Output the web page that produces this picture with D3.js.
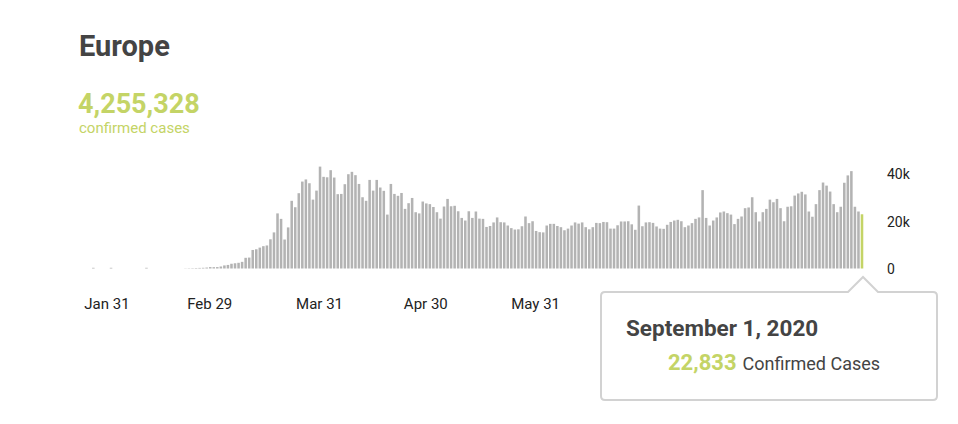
<!DOCTYPE html>
<html>
<head>
<meta charset="utf-8">
<script src="https://cdn.jsdelivr.net/npm/d3@7"></script>
<style>
  body { margin: 0; background: #fff; }
  svg { display: block; font-family: Roboto, "Noto Sans", sans-serif; }
</style>
</head>
<body>
<svg id="chart" width="958" height="424"></svg>
<script>
// ---------- DATA ----------
const regionName = "Europe";
const totalConfirmed = 4255328;
const totalLabel = "confirmed cases";
const startDate = "2020-01-22";
// daily new confirmed cases, Jan 22 .. Sep 1 2020
const janValues = [0,0,0,0,0,0,300,0,0,0];
const febValues = [0,300,0,0,0,0,0,0,0,0,0,300,0,0,0,0,0,0,0,0,0,0,80,120,150,200,250,300,400];
const marValues = [600,560,600,840,1300,1500,2000,2200,2400,2800,4500,4600,7800,8100,8800,9400,9700,12300,15200,23200,20900,12200,17300,28500,25800,31700,36600,37500,35900,29000,32800];
const aprValues = [42900,38600,38400,41400,38300,31300,31400,35500,39700,40700,39300,35600,30000,28500,37300,32800,37300,34100,32700,22700,35600,31400,30600,31800,25100,27500,29700,23700,23200,28200];
const mayValues = [27400,27100,25900,23700,21000,26100,29300,26200,26400,24100,21300,20200,24100,21300,24000,21000,20900,17500,17900,19400,21500,19500,19400,18100,17000,16400,16500,17800,21900,19100,19900];
const junValues = [15800,15300,15200,18100,18800,18800,17900,17400,16100,16800,18100,19400,18900,19400,17400,16500,17400,19200,19100,19600,19500,16800,16800,18200,19800,19800,19900,18600,16300,26500];
const julValues = [17800,19400,19500,19200,17700,16800,16700,18400,19600,20200,20500,19900,17400,18100,19100,20900,21500,33000,21300,18100,20200,21500,23600,24000,23300,22700,18700,20900,21900,25400,25700];
const augValues = [30000,23700,19800,23700,25100,29000,27900,29300,25400,19900,26000,26200,30700,31600,32300,31200,24000,21800,27100,33000,36200,34900,32400,27100,23700,26000,36100,39200,41000,26000,24000];
const sepValues = [22833];
const yTickValues = [0, 20000, 40000];
const yTickLabels = ["0", "20k", "40k"];
const xTickDates = ["2020-02-01","2020-03-01","2020-04-01","2020-05-01","2020-06-01","2020-07-01","2020-08-01","2020-09-01"];
const xTickLabels = ["Jan 31","Feb 29","Mar 31","Apr 30","May 31","Jun 30","Jul 31","Aug 31"];
const tooltipSuffix = "Confirmed Cases";

// ---------- BUILD ----------
const values = [].concat(janValues, febValues, marValues, aprValues, mayValues, junValues, julValues, augValues, sepValues);
const parse = d3.utcParse("%Y-%m-%d");
const t0 = parse(startDate);
const days = d3.utcDay.range(t0, d3.utcDay.offset(t0, values.length));
const data = days.map((d, i) => ({ date: d, value: values[i] }));
const last = data[data.length - 1];

const GREEN = "#c4d466";
const GRAY = "#b3b3b3";
const svg = d3.select("#chart");

const x = d3.scaleUtc()
  .domain([parse("2020-02-01"), parse("2020-09-01")])
  .range([107.5, 862]);
const y = d3.scaleLinear().domain([0, 40000]).range([268.5, 173.5]);
const step = x(parse("2020-02-02")) - x(parse("2020-02-01"));
const bw = step - 1;

// title block
svg.append("text").attr("x", 79).attr("y", 56)
  .attr("font-size", 29).attr("font-weight", 700).attr("fill", "#444")
  .text(regionName);
svg.append("text").attr("x", 78).attr("y", 113)
  .attr("font-size", 27).attr("font-weight", 700).attr("fill", GREEN)
  .text(d3.format(",")(totalConfirmed));
svg.append("text").attr("x", 79).attr("y", 133)
  .attr("font-size", 15).attr("fill", GREEN)
  .text(totalLabel);

// bars
svg.append("g").selectAll("rect").data(data.filter(d => d.value > 0)).join("rect")
  .attr("x", d => x(d.date) - bw / 2)
  .attr("width", bw)
  .attr("y", d => y(d.value))
  .attr("height", d => y(0) - y(d.value))
  .attr("fill", d => d === last ? GREEN : GRAY);

// x axis
const xAxis = d3.axisBottom(x)
  .tickValues(xTickDates.map(parse))
  .tickFormat((d, i) => xTickLabels[i])
  .tickSize(0);
const gx = svg.append("g").attr("transform", "translate(-1,0)").call(xAxis);
gx.select(".domain").remove();
gx.selectAll("text").attr("y", 309).attr("dy", 0)
  .attr("font-size", 15).attr("fill", "#222").attr("font-family", "Roboto, sans-serif");

// y axis
const yAxis = d3.axisRight(y)
  .tickValues(yTickValues)
  .tickFormat((d, i) => yTickLabels[i])
  .tickSize(0).tickPadding(0);
const gy = svg.append("g").attr("transform", "translate(887,0)").call(yAxis);
gy.select(".domain").remove();
gy.selectAll("text").attr("dy", "0.36em")
  .attr("font-size", 14).attr("fill", "#222").attr("font-family", "Roboto, sans-serif");

// tooltip
const ax = x(last.date) + 1;
const L = 601, R = 937, T = 292, B = 400, r = 4, aw = 15, ah = 15;
const p = d3.path();
p.moveTo(L + r, T);
p.lineTo(ax - aw, T);
p.lineTo(ax, T - ah);
p.lineTo(ax + aw, T);
p.lineTo(R - r, T);
p.quadraticCurveTo(R, T, R, T + r);
p.lineTo(R, B - r);
p.quadraticCurveTo(R, B, R - r, B);
p.lineTo(L + r, B);
p.quadraticCurveTo(L, B, L, B - r);
p.lineTo(L, T + r);
p.quadraticCurveTo(L, T, L + r, T);
p.closePath();
svg.append("path").attr("d", p.toString())
  .attr("fill", "#fff").attr("stroke", "#d2d2d2").attr("stroke-width", 2);

svg.append("text").attr("x", 626).attr("y", 336)
  .attr("font-size", 22.5).attr("font-weight", 700).attr("fill", "#444")
  .text(d3.utcFormat("%B %-d, %Y")(last.date));
const line2 = svg.append("text").attr("x", 668).attr("y", 370);
line2.append("tspan").attr("font-size", 22).attr("font-weight", 700).attr("fill", GREEN)
  .text(d3.format(",")(last.value));
line2.append("tspan").attr("dx", 6).attr("font-size", 18).attr("fill", "#444")
  .text(tooltipSuffix);
</script>
</body>
</html>
